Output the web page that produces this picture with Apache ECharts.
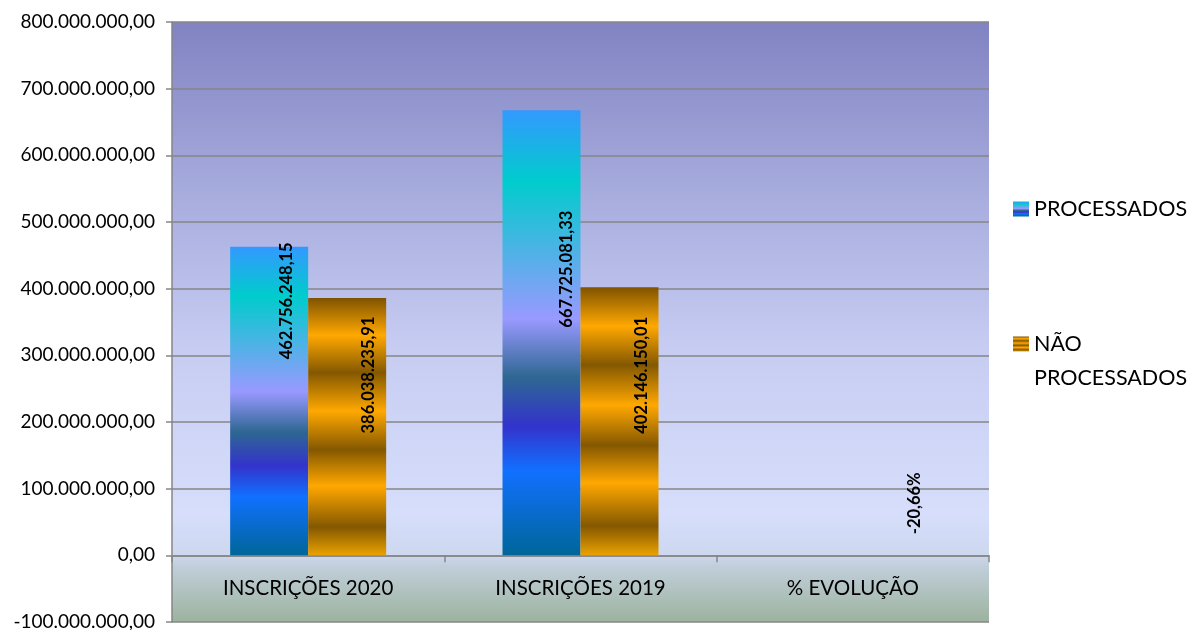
<!DOCTYPE html>
<html>
<head>
<meta charset="utf-8">
<script src="https://cdn.jsdelivr.net/npm/echarts@6/dist/echarts.min.js"></script>
<style>
  html, body { margin: 0; padding: 0; background: #ffffff; }
  #chart { width: 1195px; height: 630px; }
</style>
</head>
<body>
<div id="chart"></div>
<script>
// Categories and values
const categories = ['INSCRIÇÕES 2020', 'INSCRIÇÕES 2019', '% EVOLUÇÃO'];
const processados = [462756248.15, 667725081.33, null];
const naoProcessados = [386038235.91, 402146150.01, -0.2066];
const seriesNames = ['PROCESSADOS', 'NÃO PROCESSADOS'];

// Value axis range
const axisMin = -100000000;
const axisMax = 800000000;
const axisStep = 100000000;

// Where each value label sits inside its bar: [px from bar left, px from bar top]
const processadosLabelSpots = [[57, 54], [64, 159], null];
const naoProcessadosLabelSpots = [[61, 77], [61, 88], [62, -52]];

const FONT = 'Lato, "Open Sans", sans-serif';

// Plot box
const GRID = { left: 172, right: 206, top: 22, bottom: 8 };
const plotHeight = 630 - GRID.top - GRID.bottom;
// lift the category axis from the bottom edge up to the zero line
const zeroLift = plotHeight * (0 - axisMin) / (axisMax - axisMin);

// pt-BR number formatting: 462.756.248,15
function fmtBR(v, decimals) {
  const neg = v < 0;
  const fixed = Math.abs(v).toFixed(decimals);
  const parts = fixed.split('.');
  const intPart = parts[0].replace(/\B(?=(\d{3})+(?!\d))/g, '.');
  return (neg ? '-' : '') + intPart + (parts[1] ? ',' + parts[1] : '');
}

function valueLabel(p) {
  if (p.dataIndex === 2) return fmtBR(p.value * 100, 2) + '%';
  return fmtBR(p.value, 2);
}

const peacock = new echarts.graphic.LinearGradient(0, 0, 0, 1, [
  { offset: 0.00, color: '#3399ff' },
  { offset: 0.16, color: '#00cccc' },
  { offset: 0.47, color: '#9999ff' },
  { offset: 0.60, color: '#2e6792' },
  { offset: 0.71, color: '#3333cc' },
  { offset: 0.81, color: '#1170ff' },
  { offset: 1.00, color: '#006699' }
]);

const brass = new echarts.graphic.LinearGradient(0, 0, 0, 1, [
  { offset: 0.00, color: '#7f5300' },
  { offset: 0.145, color: '#ffa800' },
  { offset: 0.29, color: '#845800' },
  { offset: 0.44, color: '#ffa800' },
  { offset: 0.59, color: '#845800' },
  { offset: 0.73, color: '#ffa800' },
  { offset: 0.89, color: '#845800' },
  { offset: 1.00, color: '#eba200' }
]);

const plotBg = new echarts.graphic.LinearGradient(0, 0, 0, 1, [
  { offset: 0.00, color: '#8183c2' },
  { offset: 0.30, color: '#a9aedf' },
  { offset: 0.55, color: '#c7cdf2' },
  { offset: 0.82, color: '#d6defb' },
  { offset: 0.89, color: '#cdd7ee' },
  { offset: 0.905, color: '#c2cfdc' },
  { offset: 1.00, color: '#9cb39e' }
]);

function buildData(values, spots) {
  return values.map((v, i) => {
    if (v == null) return { value: null };
    const s = spots[i];
    return {
      value: v,
      label: { position: [s[0], s[1]] }
    };
  });
}

const labelStyle = {
  show: true,
  rotate: 90,
  align: 'center',
  verticalAlign: 'middle',
  fontFamily: FONT,
  fontSize: 16.5,
  fontWeight: 'bold',
  color: '#000000',
  formatter: valueLabel
};

const legendText = { fontFamily: FONT, fontSize: 21.5, color: '#000000' };

const chart = echarts.init(document.getElementById('chart'), null, { renderer: 'canvas' });

chart.setOption({
  animation: false,
  backgroundColor: '#ffffff',
  grid: {
    left: GRID.left, right: GRID.right, top: GRID.top, bottom: GRID.bottom,
    outerBoundsMode: 'none',
    containLabel: false,
    show: true,
    backgroundColor: plotBg,
    borderWidth: 0
  },
  legend: [
    {
      data: [seriesNames[0]],
      left: 1013, top: 198,
      padding: 0,
      itemWidth: 16, itemHeight: 15,
      icon: 'rect',
      textStyle: legendText
    },
    {
      data: [seriesNames[1]],
      // blank first line keeps the swatch level with "NÃO"
      formatter: () => '\u00a0\nNÃO\nPROCESSADOS',
      left: 1013, top: 293,
      padding: 0,
      itemWidth: 16, itemHeight: 15,
      icon: 'rect',
      textStyle: Object.assign({ lineHeight: 34 }, legendText)
    }
  ],
  xAxis: {
    type: 'category',
    data: categories,
    offset: -zeroLift,
    axisLine: { onZero: false, lineStyle: { color: '#868686', width: 1.5 } },
    axisTick: { show: true, alignWithLabel: false, length: 7, lineStyle: { color: '#868686', width: 1.5 } },
    axisLabel: { margin: 23, fontFamily: FONT, fontSize: 20.5, color: '#000000' },
    splitLine: { show: false }
  },
  yAxis: {
    type: 'value',
    min: axisMin, max: axisMax, interval: axisStep,
    axisLine: { show: true, lineStyle: { color: '#868686', width: 1.5 } },
    axisTick: { show: true, length: 6, lineStyle: { color: '#868686', width: 1.5 } },
    axisLabel: {
      margin: 17, fontFamily: FONT, fontSize: 19, color: '#000000',
      formatter: v => fmtBR(v, 2)
    },
    splitLine: { show: true, lineStyle: { color: '#868686', width: 1.5 } }
  },
  series: [
    {
      name: seriesNames[0],
      type: 'bar',
      barWidth: 78,
      barGap: '0%',
      itemStyle: { color: peacock },
      label: labelStyle,
      data: buildData(processados, processadosLabelSpots)
    },
    {
      name: seriesNames[1],
      type: 'bar',
      barWidth: 78,
      barGap: '0%',
      itemStyle: { color: brass },
      label: labelStyle,
      data: buildData(naoProcessados, naoProcessadosLabelSpots)
    }
  ]
});
</script>
</body>
</html>
